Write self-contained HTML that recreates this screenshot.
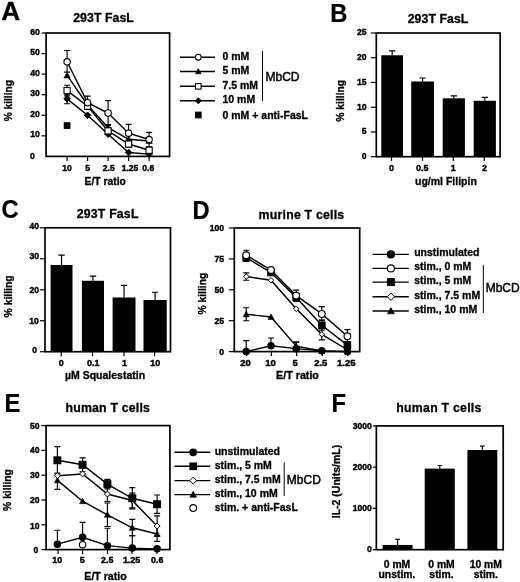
<!DOCTYPE html>
<html><head><meta charset="utf-8"><title>Figure</title>
<style>html,body{margin:0;padding:0;background:#fff}svg{display:block;will-change:transform}text{fill:#000}</style>
</head><body>
<svg width="520" height="582" viewBox="0 0 520 582" font-family="'Liberation Sans', sans-serif">
<rect width="520" height="582" fill="#fff"/>
<text transform="translate(1.3 19.6) scale(1.03 1)" font-size="25.5" font-weight="bold" stroke="#000" stroke-width="0.25">A</text>
<text x="103.5" y="22.2" font-size="12.3" font-weight="bold" text-anchor="middle" textLength="60.6" lengthAdjust="spacing" stroke="#000" stroke-width="0.3">293T FasL</text>
<rect x="46.1" y="33" width="123.5" height="123.4" fill="none" stroke="#000" stroke-width="1.7"/>
<path d="M41.6 33.00H46.1" stroke="#000" stroke-width="1.2"/>
<text x="39.8" y="34.6" font-size="8.6" font-weight="bold" text-anchor="end"  stroke="#000" stroke-width="0.4">60</text>
<path d="M41.6 53.57H46.1" stroke="#000" stroke-width="1.2"/>
<text x="39.8" y="55.17" font-size="8.6" font-weight="bold" text-anchor="end"  stroke="#000" stroke-width="0.4">50</text>
<path d="M41.6 74.13H46.1" stroke="#000" stroke-width="1.2"/>
<text x="39.8" y="75.73" font-size="8.6" font-weight="bold" text-anchor="end"  stroke="#000" stroke-width="0.4">40</text>
<path d="M41.6 94.70H46.1" stroke="#000" stroke-width="1.2"/>
<text x="39.8" y="96.3" font-size="8.6" font-weight="bold" text-anchor="end"  stroke="#000" stroke-width="0.4">30</text>
<path d="M41.6 115.27H46.1" stroke="#000" stroke-width="1.2"/>
<text x="39.8" y="116.87" font-size="8.6" font-weight="bold" text-anchor="end"  stroke="#000" stroke-width="0.4">20</text>
<path d="M41.6 135.83H46.1" stroke="#000" stroke-width="1.2"/>
<text x="39.8" y="137.43" font-size="8.6" font-weight="bold" text-anchor="end"  stroke="#000" stroke-width="0.4">10</text>
<text x="34.7" y="158.8" font-size="8.6" font-weight="bold" text-anchor="end"  stroke="#000" stroke-width="0.4">0</text>
<path d="M67.10 156.4V160.9" stroke="#000" stroke-width="1.2"/>
<path d="M87.60 156.4V160.9" stroke="#000" stroke-width="1.2"/>
<path d="M108.10 156.4V160.9" stroke="#000" stroke-width="1.2"/>
<path d="M128.60 156.4V160.9" stroke="#000" stroke-width="1.2"/>
<path d="M149.10 156.4V160.9" stroke="#000" stroke-width="1.2"/>
<text x="67.1" y="170.5" font-size="8.6" font-weight="bold" text-anchor="middle"  stroke="#000" stroke-width="0.4">10</text>
<text x="87.6" y="170.5" font-size="8.6" font-weight="bold" text-anchor="middle"  stroke="#000" stroke-width="0.4">5</text>
<text x="108.7" y="170.5" font-size="8.6" font-weight="bold" text-anchor="middle"  stroke="#000" stroke-width="0.4">2.5</text>
<text x="130.0" y="170.5" font-size="8.6" font-weight="bold" text-anchor="middle"  stroke="#000" stroke-width="0.4">1.25</text>
<text x="148.2" y="170.5" font-size="8.6" font-weight="bold" text-anchor="middle"  stroke="#000" stroke-width="0.4">0.6</text>
<text x="105.2" y="185" font-size="10.3" font-weight="bold" text-anchor="middle"  stroke="#000" stroke-width="0.3">E/T ratio</text>
<text transform="translate(12.1 100.7) rotate(-90)" font-size="10.2" font-weight="bold" text-anchor="middle"  stroke="#000" stroke-width="0.3">% killing</text>
<path d="M67.10 94.29V103.75M64.10 94.29H70.10M64.10 103.75H70.10" fill="none" stroke="#000" stroke-width="1.15"/>
<path d="M108.10 124.52V130.69M105.10 124.52H111.10M105.10 130.69H111.10" fill="none" stroke="#000" stroke-width="1.15"/>
<path d="M128.60 135.22V143.44M125.60 135.22H131.60M125.60 143.44H131.60" fill="none" stroke="#000" stroke-width="1.15"/>
<path d="M67.10 85.24V95.93M64.10 85.24H70.10M64.10 95.93H70.10" fill="none" stroke="#000" stroke-width="1.15"/>
<path d="M87.60 103.13V109.30M84.60 103.13H90.60M84.60 109.30H90.60" fill="none" stroke="#000" stroke-width="1.15"/>
<path d="M108.10 127.81V133.98M105.10 127.81H111.10M105.10 133.98H111.10" fill="none" stroke="#000" stroke-width="1.15"/>
<path d="M128.60 140.97V147.15M125.60 140.97H131.60M125.60 147.15H131.60" fill="none" stroke="#000" stroke-width="1.15"/>
<path d="M149.10 147.15V153.31M146.10 147.15H152.10M146.10 153.31H152.10" fill="none" stroke="#000" stroke-width="1.15"/>
<path d="M67.10 50.48V72.08M64.10 50.48H70.10M64.10 72.08H70.10" fill="none" stroke="#000" stroke-width="1.15"/>
<path d="M87.60 96.14V108.89M84.60 96.14H90.60M84.60 108.89H90.60" fill="none" stroke="#000" stroke-width="1.15"/>
<path d="M108.10 100.66V125.34M105.10 100.66H111.10M105.10 125.34H111.10" fill="none" stroke="#000" stroke-width="1.15"/>
<path d="M128.60 124.32V141.39M125.60 124.32H131.60M125.60 141.39H131.60" fill="none" stroke="#000" stroke-width="1.15"/>
<path d="M149.10 132.34V146.73M146.10 132.34H152.10M146.10 146.73H152.10" fill="none" stroke="#000" stroke-width="1.15"/>
<path d="M67.10 98.81L87.60 115.27L108.10 134.19L128.60 152.49L149.10 154.14" fill="none" stroke="#000" stroke-width="1.45"/>
<path d="M67.10 75.37L87.60 104.98L108.10 127.61L128.60 139.33L149.10 140.97" fill="none" stroke="#000" stroke-width="1.45"/>
<path d="M67.10 90.59L87.60 106.22L108.10 130.90L128.60 144.06L149.10 150.23" fill="none" stroke="#000" stroke-width="1.45"/>
<path d="M67.10 61.79L87.60 102.72L108.10 113.00L128.60 133.16L149.10 139.54" fill="none" stroke="#000" stroke-width="1.45"/>
<rect x="64.31" y="122.76" width="5.58" height="5.58" fill="#000" stroke="#000" stroke-width="1.1"/>
<path d="M67.10 95.51L70.40 98.81L67.10 102.11L63.80 98.81Z" fill="#000" stroke="#000" stroke-width="1.0"/>
<path d="M87.60 111.97L90.90 115.27L87.60 118.57L84.30 115.27Z" fill="#000" stroke="#000" stroke-width="1.0"/>
<path d="M108.10 130.89L111.40 134.19L108.10 137.49L104.80 134.19Z" fill="#000" stroke="#000" stroke-width="1.0"/>
<path d="M128.60 149.19L131.90 152.49L128.60 155.79L125.30 152.49Z" fill="#000" stroke="#000" stroke-width="1.0"/>
<path d="M149.10 150.84L152.40 154.14L149.10 157.44L145.80 154.14Z" fill="#000" stroke="#000" stroke-width="1.0"/>
<path d="M67.10 72.17L70.30 77.93L63.90 77.93Z" fill="#000" stroke="#000" stroke-width="0.6"/>
<path d="M87.60 101.78L90.80 107.54L84.40 107.54Z" fill="#000" stroke="#000" stroke-width="0.6"/>
<path d="M108.10 124.41L111.30 130.17L104.90 130.17Z" fill="#000" stroke="#000" stroke-width="0.6"/>
<path d="M128.60 136.13L131.80 141.89L125.40 141.89Z" fill="#000" stroke="#000" stroke-width="0.6"/>
<path d="M149.10 137.78L152.30 143.53L145.90 143.53Z" fill="#000" stroke="#000" stroke-width="0.6"/>
<rect x="64.00" y="87.49" width="6.20" height="6.20" fill="#fff" stroke="#000" stroke-width="1.1"/>
<rect x="84.50" y="103.12" width="6.20" height="6.20" fill="#fff" stroke="#000" stroke-width="1.1"/>
<rect x="105.00" y="127.80" width="6.20" height="6.20" fill="#fff" stroke="#000" stroke-width="1.1"/>
<rect x="125.50" y="140.96" width="6.20" height="6.20" fill="#fff" stroke="#000" stroke-width="1.1"/>
<rect x="146.00" y="147.13" width="6.20" height="6.20" fill="#fff" stroke="#000" stroke-width="1.1"/>
<circle cx="67.10" cy="61.79" r="3.20" fill="#fff" stroke="#000" stroke-width="1.1"/>
<circle cx="87.60" cy="102.72" r="3.20" fill="#fff" stroke="#000" stroke-width="1.1"/>
<circle cx="108.10" cy="113.00" r="3.20" fill="#fff" stroke="#000" stroke-width="1.1"/>
<circle cx="128.60" cy="133.16" r="3.20" fill="#fff" stroke="#000" stroke-width="1.1"/>
<circle cx="149.10" cy="139.54" r="3.20" fill="#fff" stroke="#000" stroke-width="1.1"/>
<path d="M180 57.2H215" stroke="#000" stroke-width="1.4"/>
<circle cx="198.30" cy="57.20" r="2.88" fill="#fff" stroke="#000" stroke-width="1.1"/>
<text x="222.5" y="59.78" font-size="10.5" font-weight="bold" text-anchor="start"  stroke="#000" stroke-width="0.3">0 mM</text>
<path d="M180 71.5H215" stroke="#000" stroke-width="1.4"/>
<path d="M198.30 68.62L201.18 73.80L195.42 73.80Z" fill="#000" stroke="#000" stroke-width="0.6"/>
<text x="222.5" y="74.08" font-size="10.5" font-weight="bold" text-anchor="start"  stroke="#000" stroke-width="0.3">5 mM</text>
<path d="M180 86.3H215" stroke="#000" stroke-width="1.4"/>
<rect x="195.51" y="83.51" width="5.58" height="5.58" fill="#fff" stroke="#000" stroke-width="1.1"/>
<text x="222.5" y="88.88" font-size="10.5" font-weight="bold" text-anchor="start"  stroke="#000" stroke-width="0.3">7.5 mM</text>
<path d="M180 100.8H215" stroke="#000" stroke-width="1.4"/>
<path d="M198.30 97.83L201.27 100.80L198.30 103.77L195.33 100.80Z" fill="#000" stroke="#000" stroke-width="1.0"/>
<text x="222.5" y="103.38" font-size="10.5" font-weight="bold" text-anchor="start"  stroke="#000" stroke-width="0.3">10 mM</text>
<rect x="195.51" y="112.21" width="5.58" height="5.58" fill="#000" stroke="#000" stroke-width="1.1"/>
<text x="222.5" y="118.78" font-size="10.5" font-weight="bold" text-anchor="start"  stroke="#000" stroke-width="0.3">0 mM + anti-FasL</text>
<path d="M262.5 51V101" stroke="#000" stroke-width="1"/>
<text x="265.5" y="81" font-size="12" font-weight="normal" text-anchor="start"  stroke="#000" stroke-width="0.45">MbCD</text>
<text transform="translate(330.2 21.7) scale(0.93 1)" font-size="25.5" font-weight="bold" stroke="#000" stroke-width="0.25">B</text>
<text x="438" y="22.8" font-size="12.3" font-weight="bold" text-anchor="middle" textLength="60.6" lengthAdjust="spacing" stroke="#000" stroke-width="0.3">293T FasL</text>
<rect x="376.3" y="33" width="123.80000000000001" height="123.69999999999999" fill="none" stroke="#000" stroke-width="1.7"/>
<path d="M370.8 33.00H376.3" stroke="#000" stroke-width="1.2"/>
<text x="366.5" y="35.4" font-size="8.6" font-weight="bold" text-anchor="end"  stroke="#000" stroke-width="0.4">25</text>
<path d="M370.8 57.74H376.3" stroke="#000" stroke-width="1.2"/>
<text x="366.5" y="60.14" font-size="8.6" font-weight="bold" text-anchor="end"  stroke="#000" stroke-width="0.4">20</text>
<path d="M370.8 82.48H376.3" stroke="#000" stroke-width="1.2"/>
<text x="366.5" y="84.88" font-size="8.6" font-weight="bold" text-anchor="end"  stroke="#000" stroke-width="0.4">15</text>
<path d="M370.8 107.22H376.3" stroke="#000" stroke-width="1.2"/>
<text x="366.5" y="109.62" font-size="8.6" font-weight="bold" text-anchor="end"  stroke="#000" stroke-width="0.4">10</text>
<path d="M370.8 131.96H376.3" stroke="#000" stroke-width="1.2"/>
<text x="366.5" y="134.36" font-size="8.6" font-weight="bold" text-anchor="end"  stroke="#000" stroke-width="0.4">5</text>
<path d="M370.8 156.70H376.3" stroke="#000" stroke-width="1.2"/>
<text x="366.5" y="159.1" font-size="8.6" font-weight="bold" text-anchor="end"  stroke="#000" stroke-width="0.4">0</text>
<rect x="381.30" y="55.27" width="21.70" height="101.43" fill="#000"/>
<path d="M392.15 55.27V50.81M388.95 50.81H395.35" fill="none" stroke="#000" stroke-width="1.15"/>
<rect x="411.20" y="81.49" width="22.80" height="75.21" fill="#000"/>
<path d="M422.60 81.49V78.03M419.40 78.03H425.80" fill="none" stroke="#000" stroke-width="1.15"/>
<rect x="442.70" y="98.31" width="22.20" height="58.39" fill="#000"/>
<path d="M453.80 98.31V95.84M450.60 95.84H457.00" fill="none" stroke="#000" stroke-width="1.15"/>
<rect x="473.70" y="100.79" width="22.20" height="55.91" fill="#000"/>
<path d="M484.80 100.79V97.32M481.60 97.32H488.00" fill="none" stroke="#000" stroke-width="1.15"/>
<path d="M391.50 156.7V160.89999999999998" stroke="#000" stroke-width="1.2"/>
<path d="M422.50 156.7V160.89999999999998" stroke="#000" stroke-width="1.2"/>
<path d="M453.25 156.7V160.89999999999998" stroke="#000" stroke-width="1.2"/>
<path d="M484.25 156.7V160.89999999999998" stroke="#000" stroke-width="1.2"/>
<text transform="translate(391.5 170.5) scale(1.04 1)" font-size="8.6" font-weight="bold" text-anchor="middle"  stroke="#000" stroke-width="0.4">0</text>
<text transform="translate(422.3 170.5) scale(1.04 1)" font-size="8.6" font-weight="bold" text-anchor="middle"  stroke="#000" stroke-width="0.4">0.5</text>
<text transform="translate(453.2 170.5) scale(1.04 1)" font-size="8.6" font-weight="bold" text-anchor="middle"  stroke="#000" stroke-width="0.4">1</text>
<text transform="translate(484.4 170.5) scale(1.04 1)" font-size="8.6" font-weight="bold" text-anchor="middle"  stroke="#000" stroke-width="0.4">2</text>
<text x="445.9" y="185" font-size="10.5" font-weight="bold" text-anchor="middle"  stroke="#000" stroke-width="0.3">ug/ml Filipin</text>
<text transform="translate(343.8 100.8) rotate(-90)" font-size="10.3" font-weight="bold" text-anchor="middle"  stroke="#000" stroke-width="0.3">% killing</text>
<text transform="translate(1.6 217.7) scale(0.93 1)" font-size="25.5" font-weight="bold" stroke="#000" stroke-width="0.25">C</text>
<text x="107.6" y="217.8" font-size="12.3" font-weight="bold" text-anchor="middle" textLength="61.6" lengthAdjust="spacing" stroke="#000" stroke-width="0.3">293T FasL</text>
<rect x="45" y="227.8" width="125.5" height="123.89999999999998" fill="none" stroke="#000" stroke-width="1.7"/>
<path d="M40 227.80H45" stroke="#000" stroke-width="1.2"/>
<text x="39" y="229.0" font-size="8.6" font-weight="bold" text-anchor="end"  stroke="#000" stroke-width="0.4">40</text>
<path d="M40 258.77H45" stroke="#000" stroke-width="1.2"/>
<text x="39.1" y="259.47" font-size="8.6" font-weight="bold" text-anchor="end"  stroke="#000" stroke-width="0.4">30</text>
<path d="M40 289.75H45" stroke="#000" stroke-width="1.2"/>
<text x="39.1" y="292.75" font-size="8.6" font-weight="bold" text-anchor="end"  stroke="#000" stroke-width="0.4">20</text>
<path d="M40 320.73H45" stroke="#000" stroke-width="1.2"/>
<text x="38.9" y="324.12" font-size="8.6" font-weight="bold" text-anchor="end"  stroke="#000" stroke-width="0.4">10</text>
<path d="M40 351.70H45" stroke="#000" stroke-width="1.2"/>
<text x="37" y="353.3" font-size="8.6" font-weight="bold" text-anchor="end"  stroke="#000" stroke-width="0.4">0</text>
<rect x="50.60" y="264.97" width="21.90" height="86.73" fill="#000"/>
<path d="M61.55 264.97V255.06M58.35 255.06H64.75" fill="none" stroke="#000" stroke-width="1.15"/>
<rect x="81.90" y="280.77" width="22.10" height="70.93" fill="#000"/>
<path d="M92.95 280.77V276.12M89.75 276.12H96.15" fill="none" stroke="#000" stroke-width="1.15"/>
<rect x="112.60" y="297.49" width="22.90" height="54.21" fill="#000"/>
<path d="M124.05 297.49V285.41M120.85 285.41H127.25" fill="none" stroke="#000" stroke-width="1.15"/>
<rect x="143.50" y="299.97" width="23.20" height="51.73" fill="#000"/>
<path d="M155.10 299.97V292.23M151.90 292.23H158.30" fill="none" stroke="#000" stroke-width="1.15"/>
<path d="M61.25 351.7V356.3" stroke="#000" stroke-width="1.2"/>
<path d="M92.50 351.7V356.3" stroke="#000" stroke-width="1.2"/>
<path d="M124.00 351.7V356.3" stroke="#000" stroke-width="1.2"/>
<path d="M154.60 351.7V356.3" stroke="#000" stroke-width="1.2"/>
<text transform="translate(61.2 365.6) scale(1.04 1)" font-size="8.6" font-weight="bold" text-anchor="middle"  stroke="#000" stroke-width="0.4">0</text>
<text transform="translate(93.2 365.6) scale(1.04 1)" font-size="8.6" font-weight="bold" text-anchor="middle"  stroke="#000" stroke-width="0.4">0.1</text>
<text transform="translate(124.6 365.6) scale(1.04 1)" font-size="8.6" font-weight="bold" text-anchor="middle"  stroke="#000" stroke-width="0.4">1</text>
<text transform="translate(155.3 365.6) scale(1.04 1)" font-size="8.6" font-weight="bold" text-anchor="middle"  stroke="#000" stroke-width="0.4">10</text>
<text x="105" y="379.2" font-size="10.5" font-weight="bold" text-anchor="middle"  stroke="#000" stroke-width="0.3">µM Squalestatin</text>
<text transform="translate(12.0 296.4) rotate(-90)" font-size="10.4" font-weight="bold" text-anchor="middle"  stroke="#000" stroke-width="0.3">% killing</text>
<text transform="translate(192.4 218.7) scale(0.93 1)" font-size="25.5" font-weight="bold" stroke="#000" stroke-width="0.25">D</text>
<text x="301.4" y="218.5" font-size="12.3" font-weight="bold" text-anchor="middle" textLength="85.6" lengthAdjust="spacing" stroke="#000" stroke-width="0.3">murine T cells</text>
<rect x="234.3" y="228" width="125.39999999999998" height="123.60000000000002" fill="none" stroke="#000" stroke-width="1.7"/>
<path d="M228.8 228.00H234.3" stroke="#000" stroke-width="1.2"/>
<text x="224" y="231.0" font-size="8.6" font-weight="bold" text-anchor="end"  stroke="#000" stroke-width="0.4">100</text>
<path d="M228.8 258.90H234.3" stroke="#000" stroke-width="1.2"/>
<text x="224" y="261.9" font-size="8.6" font-weight="bold" text-anchor="end"  stroke="#000" stroke-width="0.4">75</text>
<path d="M228.8 289.80H234.3" stroke="#000" stroke-width="1.2"/>
<text x="224" y="292.8" font-size="8.6" font-weight="bold" text-anchor="end"  stroke="#000" stroke-width="0.4">50</text>
<path d="M228.8 320.70H234.3" stroke="#000" stroke-width="1.2"/>
<text x="224" y="323.7" font-size="8.6" font-weight="bold" text-anchor="end"  stroke="#000" stroke-width="0.4">25</text>
<path d="M228.8 351.60H234.3" stroke="#000" stroke-width="1.2"/>
<text x="224" y="354.6" font-size="8.6" font-weight="bold" text-anchor="end"  stroke="#000" stroke-width="0.4">0</text>
<path d="M246.60 351.6V356.1" stroke="#000" stroke-width="1.2"/>
<path d="M271.40 351.6V356.1" stroke="#000" stroke-width="1.2"/>
<path d="M296.60 351.6V356.1" stroke="#000" stroke-width="1.2"/>
<path d="M322.20 351.6V356.1" stroke="#000" stroke-width="1.2"/>
<path d="M347.80 351.6V356.1" stroke="#000" stroke-width="1.2"/>
<text transform="translate(245.5 365.8) scale(1.1 1)" font-size="8.6" font-weight="bold" text-anchor="middle"  stroke="#000" stroke-width="0.4">20</text>
<text transform="translate(270.5 365.8) scale(1.1 1)" font-size="8.6" font-weight="bold" text-anchor="middle"  stroke="#000" stroke-width="0.4">10</text>
<text transform="translate(295.2 365.8) scale(1.1 1)" font-size="8.6" font-weight="bold" text-anchor="middle"  stroke="#000" stroke-width="0.4">5</text>
<text transform="translate(320.8 365.8) scale(1.1 1)" font-size="8.6" font-weight="bold" text-anchor="middle"  stroke="#000" stroke-width="0.4">2.5</text>
<text transform="translate(346.2 365.8) scale(1.1 1)" font-size="8.6" font-weight="bold" text-anchor="middle"  stroke="#000" stroke-width="0.4">1.25</text>
<text transform="translate(297.5 379.4) scale(1.06 1)" font-size="10.1" font-weight="bold" text-anchor="middle"  stroke="#000" stroke-width="0.3">E/T ratio</text>
<text transform="translate(206.1 293.6) rotate(-90)" font-size="10.3" font-weight="bold" text-anchor="middle"  stroke="#000" stroke-width="0.3">% killing</text>
<path d="M246.20 272.87V280.28M243.20 272.87H249.20M243.20 280.28H249.20" fill="none" stroke="#000" stroke-width="1.15"/>
<path d="M321.80 328.73V339.86M318.80 328.73H324.80M318.80 339.86H324.80" fill="none" stroke="#000" stroke-width="1.15"/>
<path d="M246.20 340.60V351.60M243.20 340.60H249.20M243.20 351.60H249.20" fill="none" stroke="#000" stroke-width="1.15"/>
<path d="M271.00 338.00V345.67M268.00 338.00H274.00M268.00 345.67H274.00" fill="none" stroke="#000" stroke-width="1.15"/>
<path d="M296.20 341.71V348.63M293.20 341.71H299.20M293.20 348.63H299.20" fill="none" stroke="#000" stroke-width="1.15"/>
<path d="M246.20 307.72V320.70M243.20 307.72H249.20M243.20 320.70H249.20" fill="none" stroke="#000" stroke-width="1.15"/>
<path d="M296.20 342.45V349.87M293.20 342.45H299.20M293.20 349.87H299.20" fill="none" stroke="#000" stroke-width="1.15"/>
<path d="M246.20 253.96V261.37M243.20 253.96H249.20M243.20 261.37H249.20" fill="none" stroke="#000" stroke-width="1.15"/>
<path d="M296.20 293.76V301.17M293.20 293.76H299.20M293.20 301.17H299.20" fill="none" stroke="#000" stroke-width="1.15"/>
<path d="M321.80 320.33V330.22M318.80 320.33H324.80M318.80 330.22H324.80" fill="none" stroke="#000" stroke-width="1.15"/>
<path d="M347.40 341.46V348.88M344.40 341.46H350.40M344.40 348.88H350.40" fill="none" stroke="#000" stroke-width="1.15"/>
<path d="M246.20 250.25V260.14M243.20 250.25H249.20M243.20 260.14H249.20" fill="none" stroke="#000" stroke-width="1.15"/>
<path d="M271.00 268.17V271.88M268.00 268.17H274.00M268.00 271.88H274.00" fill="none" stroke="#000" stroke-width="1.15"/>
<path d="M296.20 290.17V300.55M293.20 290.17H299.20M293.20 300.55H299.20" fill="none" stroke="#000" stroke-width="1.15"/>
<path d="M321.80 306.61V320.08M318.80 306.61H324.80M318.80 320.08H324.80" fill="none" stroke="#000" stroke-width="1.15"/>
<path d="M347.40 329.60V342.45M344.40 329.60H350.40M344.40 342.45H350.40" fill="none" stroke="#000" stroke-width="1.15"/>
<path d="M246.20 276.57L271.00 280.28L296.20 308.83L321.80 334.30L347.40 349.75" fill="none" stroke="#000" stroke-width="1.45"/>
<path d="M246.20 351.60L271.00 345.67L296.20 348.63L321.80 350.86L347.40 351.60" fill="none" stroke="#000" stroke-width="1.45"/>
<path d="M246.20 314.27L271.00 316.99L296.20 346.16L321.80 350.98L347.40 351.60" fill="none" stroke="#000" stroke-width="1.45"/>
<path d="M246.20 257.66L271.00 272.50L296.20 297.46L321.80 325.27L347.40 345.17" fill="none" stroke="#000" stroke-width="1.45"/>
<path d="M246.20 255.19L271.00 270.02L296.20 295.61L321.80 313.90L347.40 336.27" fill="none" stroke="#000" stroke-width="1.45"/>
<path d="M246.20 273.77L249.00 276.57L246.20 279.38L243.39 276.57Z" fill="#fff" stroke="#000" stroke-width="1.0"/>
<path d="M271.00 277.48L273.81 280.28L271.00 283.09L268.19 280.28Z" fill="#fff" stroke="#000" stroke-width="1.0"/>
<path d="M296.20 306.03L299.00 308.83L296.20 311.64L293.39 308.83Z" fill="#fff" stroke="#000" stroke-width="1.0"/>
<path d="M321.80 331.49L324.61 334.30L321.80 337.10L319.00 334.30Z" fill="#fff" stroke="#000" stroke-width="1.0"/>
<path d="M347.40 346.94L350.20 349.75L347.40 352.55L344.59 349.75Z" fill="#fff" stroke="#000" stroke-width="1.0"/>
<circle cx="246.20" cy="351.60" r="3.20" fill="#000" stroke="#000" stroke-width="1.1"/>
<circle cx="271.00" cy="345.67" r="3.20" fill="#000" stroke="#000" stroke-width="1.1"/>
<circle cx="296.20" cy="348.63" r="3.20" fill="#000" stroke="#000" stroke-width="1.1"/>
<circle cx="321.80" cy="350.86" r="3.20" fill="#000" stroke="#000" stroke-width="1.1"/>
<circle cx="347.40" cy="351.60" r="3.20" fill="#000" stroke="#000" stroke-width="1.1"/>
<path d="M246.20 311.23L249.24 316.70L243.16 316.70Z" fill="#000" stroke="#000" stroke-width="0.6"/>
<path d="M271.00 313.95L274.04 319.42L267.96 319.42Z" fill="#000" stroke="#000" stroke-width="0.6"/>
<path d="M296.20 343.12L299.24 348.59L293.16 348.59Z" fill="#000" stroke="#000" stroke-width="0.6"/>
<path d="M321.80 347.94L324.84 353.41L318.76 353.41Z" fill="#000" stroke="#000" stroke-width="0.6"/>
<path d="M347.40 348.56L350.44 354.03L344.36 354.03Z" fill="#000" stroke="#000" stroke-width="0.6"/>
<rect x="242.94" y="254.41" width="6.51" height="6.51" fill="#000" stroke="#000" stroke-width="1.1"/>
<rect x="267.75" y="269.24" width="6.51" height="6.51" fill="#000" stroke="#000" stroke-width="1.1"/>
<rect x="292.94" y="294.21" width="6.51" height="6.51" fill="#000" stroke="#000" stroke-width="1.1"/>
<rect x="318.55" y="322.02" width="6.51" height="6.51" fill="#000" stroke="#000" stroke-width="1.1"/>
<rect x="344.14" y="341.92" width="6.51" height="6.51" fill="#000" stroke="#000" stroke-width="1.1"/>
<circle cx="246.20" cy="255.19" r="3.36" fill="#fff" stroke="#000" stroke-width="1.1"/>
<circle cx="271.00" cy="270.02" r="3.36" fill="#fff" stroke="#000" stroke-width="1.1"/>
<circle cx="296.20" cy="295.61" r="3.36" fill="#fff" stroke="#000" stroke-width="1.1"/>
<circle cx="321.80" cy="313.90" r="3.36" fill="#fff" stroke="#000" stroke-width="1.1"/>
<circle cx="347.40" cy="336.27" r="3.36" fill="#fff" stroke="#000" stroke-width="1.1"/>
<path d="M372.5 254.4H408.8" stroke="#000" stroke-width="1.4"/>
<circle cx="390.90" cy="254.40" r="3.52" fill="#000" stroke="#000" stroke-width="1.1"/>
<text x="414.2" y="256.28" font-size="10.5" font-weight="bold" text-anchor="start"  stroke="#000" stroke-width="0.3">unstimulated</text>
<path d="M372.5 268.4H408.8" stroke="#000" stroke-width="1.4"/>
<circle cx="390.90" cy="268.40" r="3.52" fill="#fff" stroke="#000" stroke-width="1.1"/>
<text x="414.2" y="270.28" font-size="10.5" font-weight="bold" text-anchor="start"  stroke="#000" stroke-width="0.3">stim., 0 mM</text>
<path d="M372.5 282.1H408.8" stroke="#000" stroke-width="1.4"/>
<rect x="387.49" y="278.69" width="6.82" height="6.82" fill="#000" stroke="#000" stroke-width="1.1"/>
<text x="414.2" y="283.98" font-size="10.5" font-weight="bold" text-anchor="start"  stroke="#000" stroke-width="0.3">stim., 5 mM</text>
<path d="M372.5 296.7H408.8" stroke="#000" stroke-width="1.4"/>
<path d="M390.90 293.07L394.53 296.70L390.90 300.33L387.27 296.70Z" fill="#fff" stroke="#000" stroke-width="1.0"/>
<text x="414.2" y="298.58" font-size="10.5" font-weight="bold" text-anchor="start"  stroke="#000" stroke-width="0.3">stim., 7.5 mM</text>
<path d="M372.5 311H408.8" stroke="#000" stroke-width="1.4"/>
<path d="M390.90 307.48L394.42 313.82L387.38 313.82Z" fill="#000" stroke="#000" stroke-width="0.6"/>
<text x="414.2" y="312.88" font-size="10.5" font-weight="bold" text-anchor="start"  stroke="#000" stroke-width="0.3">stim., 10 mM</text>
<path d="M483.3 264.8V313" stroke="#000" stroke-width="1"/>
<text x="485.7" y="291.6" font-size="12" font-weight="normal" text-anchor="start"  stroke="#000" stroke-width="0.45">MbCD</text>
<text transform="translate(4.5 411.7) scale(0.93 1)" font-size="25.5" font-weight="bold" stroke="#000" stroke-width="0.25">E</text>
<text x="107.7" y="412" font-size="12.3" font-weight="bold" text-anchor="middle" textLength="84.3" lengthAdjust="spacing" stroke="#000" stroke-width="0.3">human T cells</text>
<rect x="46.1" y="425.6" width="123.80000000000001" height="124.0" fill="none" stroke="#000" stroke-width="1.7"/>
<path d="M41.4 425.60H46.1" stroke="#000" stroke-width="1.2"/>
<text x="39.6" y="429.4" font-size="8.6" font-weight="bold" text-anchor="end"  stroke="#000" stroke-width="0.4">50</text>
<path d="M41.4 450.40H46.1" stroke="#000" stroke-width="1.2"/>
<text x="39.6" y="452.8" font-size="8.6" font-weight="bold" text-anchor="end"  stroke="#000" stroke-width="0.4">40</text>
<path d="M41.4 475.20H46.1" stroke="#000" stroke-width="1.2"/>
<text x="39.6" y="478.2" font-size="8.6" font-weight="bold" text-anchor="end"  stroke="#000" stroke-width="0.4">30</text>
<path d="M41.4 500.00H46.1" stroke="#000" stroke-width="1.2"/>
<text x="39.6" y="503.0" font-size="8.6" font-weight="bold" text-anchor="end"  stroke="#000" stroke-width="0.4">20</text>
<path d="M41.4 524.80H46.1" stroke="#000" stroke-width="1.2"/>
<text x="39.6" y="529.3" font-size="8.6" font-weight="bold" text-anchor="end"  stroke="#000" stroke-width="0.4">10</text>
<path d="M41.4 549.60H46.1" stroke="#000" stroke-width="1.2"/>
<text x="38.2" y="553.0" font-size="8.6" font-weight="bold" text-anchor="end"  stroke="#000" stroke-width="0.4">0</text>
<path d="M58.00 549.6V554.1" stroke="#000" stroke-width="1.2"/>
<path d="M82.60 549.6V554.1" stroke="#000" stroke-width="1.2"/>
<path d="M107.50 549.6V554.1" stroke="#000" stroke-width="1.2"/>
<path d="M132.00 549.6V554.1" stroke="#000" stroke-width="1.2"/>
<path d="M156.90 549.6V554.1" stroke="#000" stroke-width="1.2"/>
<text transform="translate(57.2 563) scale(1.04 1)" font-size="8.6" font-weight="bold" text-anchor="middle"  stroke="#000" stroke-width="0.4">10</text>
<text transform="translate(82.3 563) scale(1.04 1)" font-size="8.6" font-weight="bold" text-anchor="middle"  stroke="#000" stroke-width="0.4">5</text>
<text transform="translate(107.2 563) scale(1.04 1)" font-size="8.6" font-weight="bold" text-anchor="middle"  stroke="#000" stroke-width="0.4">2.5</text>
<text transform="translate(131.6 563) scale(1.04 1)" font-size="8.6" font-weight="bold" text-anchor="middle"  stroke="#000" stroke-width="0.4">1.25</text>
<text transform="translate(157.2 563) scale(1.04 1)" font-size="8.6" font-weight="bold" text-anchor="middle"  stroke="#000" stroke-width="0.4">0.6</text>
<text transform="translate(105.5 580) scale(1.03 1)" font-size="10.3" font-weight="bold" text-anchor="middle"  stroke="#000" stroke-width="0.3">E/T ratio</text>
<text transform="translate(10.8 490) rotate(-90)" font-size="10.3" font-weight="bold" text-anchor="middle"  stroke="#000" stroke-width="0.3">% killing</text>
<path d="M57.40 530.26V544.14M54.40 530.26H60.40M54.40 544.14H60.40" fill="none" stroke="#000" stroke-width="1.15"/>
<path d="M82.60 522.32V537.20M79.60 522.32H85.60M79.60 537.20H85.60" fill="none" stroke="#000" stroke-width="1.15"/>
<path d="M107.40 528.27V545.63M104.40 528.27H110.40M104.40 545.63H110.40" fill="none" stroke="#000" stroke-width="1.15"/>
<path d="M132.30 535.71V548.11M129.30 535.71H135.30M129.30 548.11H135.30" fill="none" stroke="#000" stroke-width="1.15"/>
<path d="M57.40 472.97V489.34M54.40 472.97H60.40M54.40 489.34H60.40" fill="none" stroke="#000" stroke-width="1.15"/>
<path d="M107.40 502.98V526.54M104.40 502.98H110.40M104.40 526.54H110.40" fill="none" stroke="#000" stroke-width="1.15"/>
<path d="M132.30 519.34V535.71M129.30 519.34H135.30M129.30 535.71H135.30" fill="none" stroke="#000" stroke-width="1.15"/>
<path d="M157.10 526.54V541.42M154.10 526.54H160.10M154.10 541.42H160.10" fill="none" stroke="#000" stroke-width="1.15"/>
<path d="M107.40 486.61V501.49M104.40 486.61H110.40M104.40 501.49H110.40" fill="none" stroke="#000" stroke-width="1.15"/>
<path d="M132.30 493.06V507.94M129.30 493.06H135.30M129.30 507.94H135.30" fill="none" stroke="#000" stroke-width="1.15"/>
<path d="M157.10 515.87V535.96M154.10 515.87H160.10M154.10 535.96H160.10" fill="none" stroke="#000" stroke-width="1.15"/>
<path d="M57.40 446.68V473.96M54.40 446.68H60.40M54.40 473.96H60.40" fill="none" stroke="#000" stroke-width="1.15"/>
<path d="M82.60 457.84V471.73M79.60 457.84H85.60M79.60 471.73H85.60" fill="none" stroke="#000" stroke-width="1.15"/>
<path d="M107.40 479.42V488.84M104.40 479.42H110.40M104.40 488.84H110.40" fill="none" stroke="#000" stroke-width="1.15"/>
<path d="M132.30 487.60V508.93M129.30 487.60H135.30M129.30 508.93H135.30" fill="none" stroke="#000" stroke-width="1.15"/>
<path d="M157.10 495.04V513.39M154.10 495.04H160.10M154.10 513.39H160.10" fill="none" stroke="#000" stroke-width="1.15"/>
<path d="M57.40 544.14L82.60 537.20L107.40 545.63L132.30 548.11L157.10 548.86" fill="none" stroke="#000" stroke-width="1.45"/>
<path d="M57.40 480.41L82.60 501.24L107.40 514.88L132.30 527.78L157.10 533.98" fill="none" stroke="#000" stroke-width="1.45"/>
<path d="M57.40 475.70L82.60 473.96L107.40 494.05L132.30 500.50L157.10 526.04" fill="none" stroke="#000" stroke-width="1.45"/>
<path d="M57.40 460.32L82.60 464.78L107.40 484.13L132.30 498.26L157.10 504.22" fill="none" stroke="#000" stroke-width="1.45"/>
<circle cx="57.40" cy="544.14" r="3.20" fill="#000" stroke="#000" stroke-width="1.1"/>
<circle cx="82.60" cy="537.20" r="3.20" fill="#000" stroke="#000" stroke-width="1.1"/>
<circle cx="107.40" cy="545.63" r="3.20" fill="#000" stroke="#000" stroke-width="1.1"/>
<circle cx="132.30" cy="548.11" r="3.20" fill="#000" stroke="#000" stroke-width="1.1"/>
<circle cx="157.10" cy="548.86" r="3.20" fill="#000" stroke="#000" stroke-width="1.1"/>
<circle cx="82.60" cy="544.64" r="3.20" fill="#fff" stroke="#000" stroke-width="1.1"/>
<path d="M57.40 477.37L60.44 482.84L54.36 482.84Z" fill="#000" stroke="#000" stroke-width="0.6"/>
<path d="M82.60 498.20L85.64 503.67L79.56 503.67Z" fill="#000" stroke="#000" stroke-width="0.6"/>
<path d="M107.40 511.84L110.44 517.31L104.36 517.31Z" fill="#000" stroke="#000" stroke-width="0.6"/>
<path d="M132.30 524.74L135.34 530.21L129.26 530.21Z" fill="#000" stroke="#000" stroke-width="0.6"/>
<path d="M157.10 530.94L160.14 536.41L154.06 536.41Z" fill="#000" stroke="#000" stroke-width="0.6"/>
<path d="M57.40 472.73L60.37 475.70L57.40 478.67L54.43 475.70Z" fill="#fff" stroke="#000" stroke-width="1.0"/>
<path d="M82.60 470.99L85.57 473.96L82.60 476.93L79.63 473.96Z" fill="#fff" stroke="#000" stroke-width="1.0"/>
<path d="M107.40 491.08L110.37 494.05L107.40 497.02L104.43 494.05Z" fill="#fff" stroke="#000" stroke-width="1.0"/>
<path d="M132.30 497.53L135.27 500.50L132.30 503.47L129.33 500.50Z" fill="#fff" stroke="#000" stroke-width="1.0"/>
<path d="M157.10 523.07L160.07 526.04L157.10 529.01L154.13 526.04Z" fill="#fff" stroke="#000" stroke-width="1.0"/>
<rect x="53.99" y="456.91" width="6.82" height="6.82" fill="#000" stroke="#000" stroke-width="1.1"/>
<rect x="79.19" y="461.37" width="6.82" height="6.82" fill="#000" stroke="#000" stroke-width="1.1"/>
<rect x="103.99" y="480.72" width="6.82" height="6.82" fill="#000" stroke="#000" stroke-width="1.1"/>
<rect x="128.89" y="494.85" width="6.82" height="6.82" fill="#000" stroke="#000" stroke-width="1.1"/>
<rect x="153.69" y="500.81" width="6.82" height="6.82" fill="#000" stroke="#000" stroke-width="1.1"/>
<path d="M174.5 452.3H210.2" stroke="#000" stroke-width="1.4"/>
<circle cx="193.20" cy="452.30" r="3.36" fill="#000" stroke="#000" stroke-width="1.1"/>
<text x="214.7" y="454.88" font-size="10.5" font-weight="bold" text-anchor="start"  stroke="#000" stroke-width="0.3">unstimulated</text>
<path d="M174.5 466.3H210.2" stroke="#000" stroke-width="1.4"/>
<rect x="189.94" y="463.05" width="6.51" height="6.51" fill="#000" stroke="#000" stroke-width="1.1"/>
<text x="214.7" y="468.88" font-size="10.5" font-weight="bold" text-anchor="start"  stroke="#000" stroke-width="0.3">stim., 5 mM</text>
<path d="M174.5 480.6H210.2" stroke="#000" stroke-width="1.4"/>
<path d="M193.20 477.14L196.66 480.60L193.20 484.06L189.73 480.60Z" fill="#fff" stroke="#000" stroke-width="1.0"/>
<text x="214.7" y="483.18" font-size="10.5" font-weight="bold" text-anchor="start"  stroke="#000" stroke-width="0.3">stim., 7.5 mM</text>
<path d="M174.5 494.6H210.2" stroke="#000" stroke-width="1.4"/>
<path d="M193.20 491.24L196.56 497.29L189.84 497.29Z" fill="#000" stroke="#000" stroke-width="0.6"/>
<text x="214.7" y="497.18" font-size="10.5" font-weight="bold" text-anchor="start"  stroke="#000" stroke-width="0.3">stim., 10 mM</text>
<circle cx="193.20" cy="508.00" r="3.36" fill="#fff" stroke="#000" stroke-width="1.1"/>
<text x="214.7" y="511.18" font-size="10.5" font-weight="bold" text-anchor="start"  stroke="#000" stroke-width="0.3">stim. + anti-FasL</text>
<path d="M284.2 462.4V496" stroke="#000" stroke-width="1"/>
<text x="286.8" y="484.2" font-size="12" font-weight="normal" text-anchor="start"  stroke="#000" stroke-width="0.45">MbCD</text>
<text transform="translate(331.6 411.6) scale(0.93 1)" font-size="25.5" font-weight="bold" stroke="#000" stroke-width="0.25">F</text>
<text x="438.85" y="412" font-size="12.3" font-weight="bold" text-anchor="middle" textLength="85" lengthAdjust="spacing" stroke="#000" stroke-width="0.3">human T cells</text>
<rect x="376.35" y="425.9" width="126.84999999999997" height="123.80000000000007" fill="none" stroke="#000" stroke-width="1.7"/>
<path d="M372.8 425.90H376.35" stroke="#000" stroke-width="1.2"/>
<text x="371.8" y="428.6" font-size="8.6" font-weight="bold" text-anchor="end"  stroke="#000" stroke-width="0.4">3000</text>
<path d="M372.8 467.17H376.35" stroke="#000" stroke-width="1.2"/>
<text x="371.8" y="469.87" font-size="8.6" font-weight="bold" text-anchor="end"  stroke="#000" stroke-width="0.4">2000</text>
<path d="M372.8 508.43H376.35" stroke="#000" stroke-width="1.2"/>
<text x="371.8" y="511.13" font-size="8.6" font-weight="bold" text-anchor="end"  stroke="#000" stroke-width="0.4">1000</text>
<path d="M372.8 549.70H376.35" stroke="#000" stroke-width="1.2"/>
<text x="371.8" y="552.4" font-size="8.6" font-weight="bold" text-anchor="end"  stroke="#000" stroke-width="0.4">0</text>
<rect x="382.60" y="544.95" width="30.00" height="4.75" fill="#000"/>
<path d="M397.60 544.95V539.38M395.30 539.38H399.90" fill="none" stroke="#000" stroke-width="1.15"/>
<rect x="424.70" y="468.61" width="30.10" height="81.09" fill="#000"/>
<path d="M439.75 468.61V465.52M437.45 465.52H442.05" fill="none" stroke="#000" stroke-width="1.15"/>
<rect x="467.40" y="450.04" width="29.90" height="99.66" fill="#000"/>
<path d="M482.35 450.04V446.12M480.05 446.12H484.65" fill="none" stroke="#000" stroke-width="1.15"/>
<text x="397" y="567.6" font-size="10.4" font-weight="bold" text-anchor="middle"  stroke="#000" stroke-width="0.3">0 mM</text>
<text x="397" y="578" font-size="10.4" font-weight="bold" text-anchor="middle"  stroke="#000" stroke-width="0.3">unstim.</text>
<text x="441.5" y="567.6" font-size="10.4" font-weight="bold" text-anchor="middle"  stroke="#000" stroke-width="0.3">0 mM</text>
<text x="441.5" y="578" font-size="10.4" font-weight="bold" text-anchor="middle"  stroke="#000" stroke-width="0.3">stim.</text>
<text x="485.8" y="567.6" font-size="10.4" font-weight="bold" text-anchor="middle"  stroke="#000" stroke-width="0.3">10 mM</text>
<text x="485.8" y="578" font-size="10.4" font-weight="bold" text-anchor="middle"  stroke="#000" stroke-width="0.3">stim.</text>
<text transform="translate(340.4 481.5) rotate(-90)" font-size="10.5" font-weight="bold" text-anchor="middle"  stroke="#000" stroke-width="0.3">IL-2 (Units/mL)</text>
</svg>
</body></html>
